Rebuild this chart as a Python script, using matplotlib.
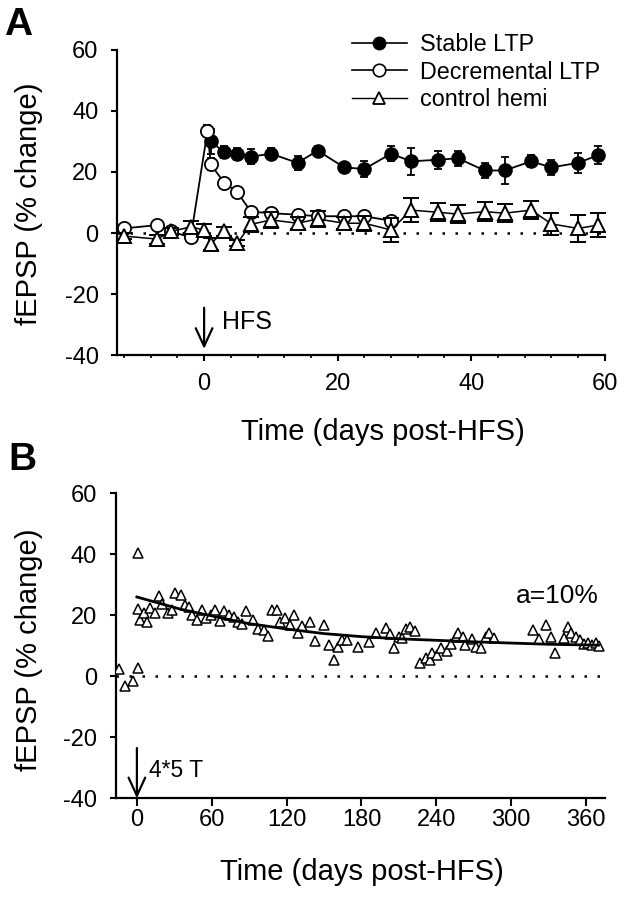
import matplotlib
matplotlib.use("Agg")
import matplotlib.pyplot as plt
from matplotlib.lines import Line2D

plt.rcParams['font.family'] = ['Liberation Sans', 'DejaVu Sans']
plt.rcParams['axes.unicode_minus'] = False

# panel A: days post-HFS, mean % change and error
stable_days = [1, 3, 5, 7, 10, 14, 17, 21, 24, 28, 31, 35, 38, 42, 45, 49, 52, 56, 59]
stable_vals = [30, 26.5, 26, 25, 26, 23, 27, 21.5, 21, 26, 23.5, 24, 24.5, 20.5, 20.5, 23.5, 21.5, 23, 25.5]
stable_err = [4, 2, 2, 2.5, 1.8, 2.2, 1.5, 1.5, 2.5, 2.5, 4.5, 3, 2.5, 2.5, 4.5, 2, 2.5, 3.2, 3]

decr_days = [-12, -7, -5, -2, 0.5, 1, 3, 5, 7, 10, 14, 17, 21, 24, 28]
decr_vals = [1.5, 2.6, 0.5, -1.4, 33.4, 22.5, 16.5, 13.3, 7, 6.5, 6, 5.5, 5.5, 5.5, 4]
decr_err = [1, 1, 1, 1, 2, 2, 1, 1, 1, 1, 1.5, 1, 1, 1, 1.5]

ctrl_days = [-12, -7, -5, -2, 0, 1, 3, 5, 7, 10, 14, 17, 21, 24, 28, 31, 35, 38, 42, 45, 49, 52, 56, 59]
ctrl_vals = [-1, -2, 0.5, 2, 1, -3.5, 0.6, -3.2, 2.8, 4.3, 3.2, 4.6, 3.2, 3.2, 1, 7.5, 6.8, 6.2, 7, 6.5, 7.5, 3, 1.5, 2.6]
ctrl_err = [1, 1.5, 1, 2, 2, 2, 1.5, 1, 2.5, 2.5, 2, 2.5, 2, 2.5, 4, 4, 3, 3, 3, 3, 3, 3.5, 4.5, 4]

# panel B: single animal, long term
b_days = [-14.6, -9.8, -3.4, 0.6, 0.6, 0.6, 2.8, 5.5, 8.2, 10.8, 14.8, 17.5, 20.2, 24.7, 28.2,
          30.3, 35.4, 38.9, 41.5, 44.3, 48.3, 52.3, 55.7, 59.7, 63, 66.4, 70.2, 73.6, 77.6, 80.8,
          84.3, 87.8, 93.2, 96.9, 101.7, 105.2, 108.4, 112.4, 115, 119, 122.5, 125.7, 128.9, 132.5,
          139.1, 143.1, 149.8, 153.8, 157.8, 161, 164.5, 168.6, 177, 185.9, 192, 199.3, 202.7,
          205.9, 209.9, 212.7, 216.1, 219.3, 222.8, 227.3, 231.4, 234.8, 236.7, 240.2, 243.4,
          248.2, 251.4, 255.4, 257.3, 261.6, 263.4, 268.8, 271.5, 275.5, 279.5, 282.1, 286.1,
          317.7, 322.2, 327.6, 331.6, 334.8, 342.3, 345.5, 348.2, 351.6, 355.1, 358.3, 361.5,
          365, 368.2, 370.3]
b_vals = [2.3, -3.1, -1.4, 2.6, 40.5, 22, 18.5, 20.9, 17.8, 22.3, 20.6, 26.4, 23.6, 20.6, 21.7,
          27.4, 26.7, 23.4, 22.8, 20.1, 18.5, 21.7, 19, 20.1, 21.7, 18.1, 21.4, 20.1, 19.5, 17.9,
          17.1, 21.4, 18.5, 15.4, 15.2, 13.2, 21.7, 21.7, 17.9, 19, 16.8, 20.1, 14.1, 16.5,
          17.9, 11.6, 16.8, 10.3, 5.3, 9.7, 11.9, 11.9, 9.5, 11.3, 14.3, 15.7, 13.8,
          9.4, 13, 12.4, 15.4, 16.1, 15, 4.3, 5.9, 5.3, 7.5, 7, 9.2,
          8.2, 10.6, 13, 14.1, 13, 10.3, 12.2, 9.7, 9.2, 13, 14.1, 12.6,
          15.2, 12.2, 16.8, 13, 7.7, 12.6, 16.3, 14.1, 13, 11.9, 10.6, 10.9,
          10.3, 10.9, 9.9]
fit_days = [0, 35, 60, 88, 120, 150, 180, 210, 240, 270, 300, 330, 370]
fit_vals = [26, 22, 19.8, 17.4, 15.5, 14, 13, 12.3, 11.8, 11.3, 10.9, 10.5, 10.2]

tick_fs = 17
label_fs = 21

fig = plt.figure(figsize=(6.26, 8.99), dpi=100)
axA = fig.add_axes([0.1874, 0.6051, 0.7786, 0.3393])
axB = fig.add_axes([0.1848, 0.112, 0.7812, 0.3393])

for ax in (axA, axB):
    ax.spines['top'].set_visible(False)
    ax.spines['right'].set_visible(False)
    ax.spines['left'].set_linewidth(1.6)
    ax.spines['bottom'].set_linewidth(1.6)
    ax.tick_params(which='major', length=4.5, width=1.5, labelsize=tick_fs)
    ax.tick_params(axis='y', pad=9)
    ax.set_ylim(-40, 60)
    ax.set_yticks([-40, -20, 0, 20, 40, 60])
    ax.axhline(0, color='black', lw=1.8, linestyle=(0, (1, 4.2)), zorder=1)

# panel A
axA.set_xlim(-13, 60)
axA.set_xticks([0, 20, 40, 60])
axA.set_xticks(range(-12, 60, 4), minor=True)
axA.tick_params(axis='x', which='minor', length=2.2, width=1.2)
axA.tick_params(axis='x', which='major', pad=8.5)

axA.errorbar(stable_days, stable_vals, yerr=stable_err, fmt='-o', color='black',
             mfc='black', mec='black', ms=9.5, lw=1.3, elinewidth=1.3, capsize=2.8,
             capthick=1.3, zorder=3)
axA.errorbar(decr_days, decr_vals, yerr=decr_err, fmt='-o', color='black',
             mfc='white', mec='black', ms=9.5, mew=1.3, lw=1.3, elinewidth=1.3,
             capsize=2.8, capthick=1.3, zorder=4)
axA.errorbar(ctrl_days, ctrl_vals, yerr=ctrl_err, fmt='-^', color='black',
             mfc='white', mec='black', ms=9.5, mew=1.4, lw=1.1, elinewidth=1.5,
             capsize=5.5, capthick=1.5, zorder=5)

axA.annotate('', xy=(0, -38), xytext=(0, -24.5),
             arrowprops=dict(arrowstyle='->, head_length=0.65, head_width=0.3',
                             lw=1.6, color='black', mutation_scale=20,
                             shrinkA=0, shrinkB=0))
axA.text(2.65, -31.6, 'HFS', fontsize=18, ha='left', va='baseline')

handles = [
    Line2D([], [], color='black', lw=1.2, marker='o', mfc='black', mec='black', ms=9),
    Line2D([], [], color='black', lw=1.2, marker='o', mfc='white', mec='black', ms=9, mew=1.2),
    Line2D([], [], color='black', lw=1.0, marker='^', mfc='white', mec='black', ms=8, mew=1.3),
]
fig.legend(handles, ['Stable LTP', 'Decremental LTP', 'control hemi'],
           loc='upper left', bbox_to_anchor=(0.5623, 0.9633), frameon=False,
           fontsize=16.8, handlelength=2.35, handletextpad=0.55, labelspacing=0.2,
           borderpad=0, borderaxespad=0)

# panel B
axB.set_xlim(-17, 375)
axB.set_xticks([0, 60, 120, 180, 240, 300, 360])
axB.tick_params(axis='x', which='major', length=5.5, pad=2)
axB.plot(b_days, b_vals, '^', mfc='white', mec='black', ms=7.8, mew=1.1, zorder=3)
axB.plot(fit_days, fit_vals, '-', color='black', lw=2.0, zorder=4)
axB.text(370, 24, 'a=10%', fontsize=19, ha='right', va='baseline')

axB.annotate('', xy=(0, -40), xytext=(0, -23.5),
             arrowprops=dict(arrowstyle='->, head_length=0.65, head_width=0.3',
                             lw=1.6, color='black', mutation_scale=20,
                             shrinkA=0, shrinkB=0))
axB.text(9.5, -32.9, '4*5 T', fontsize=16.5, ha='left', va='baseline')

# axis titles and panel letters
fig.text(383 / 626, 1 - 440 / 899, 'Time (days post-HFS)', fontsize=label_fs,
         ha='center', va='baseline')
fig.text(361.5 / 626, 1 - 880 / 899, 'Time (days post-HFS)', fontsize=label_fs,
         ha='center', va='baseline')
fig.text(37 / 626, 1 - 204 / 899, 'fEPSP (% change)', fontsize=label_fs, rotation=90,
         rotation_mode='anchor', ha='center', va='baseline')
fig.text(37 / 626, 1 - 650 / 899, 'fEPSP (% change)', fontsize=label_fs, rotation=90,
         rotation_mode='anchor', ha='center', va='baseline')
fig.text(4 / 626, 1 - 7 / 899, 'A', fontsize=28, fontweight='bold', ha='left', va='top')
fig.text(8 / 626, 1 - 442 / 899, 'B', fontsize=28, fontweight='bold', ha='left', va='top')

fig.savefig('out.png', dpi=100)
